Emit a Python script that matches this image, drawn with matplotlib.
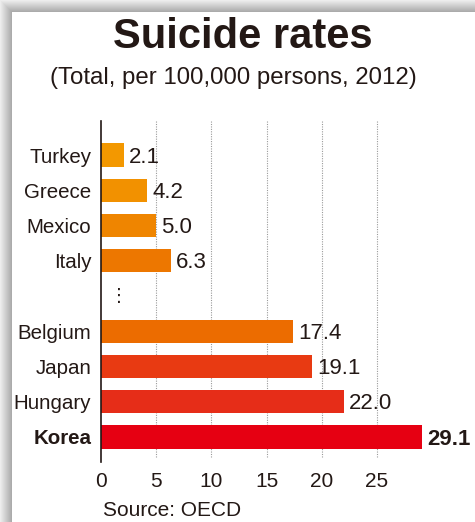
import matplotlib.pyplot as plt
import numpy as np

plt.rcParams['font.family'] = ['Liberation Sans', 'DejaVu Sans']

countries = ['Turkey', 'Greece', 'Mexico', 'Italy', 'Belgium', 'Japan', 'Hungary', 'Korea']
rates = [2.1, 4.2, 5.0, 6.3, 17.4, 19.1, 22.0, 29.1]
bar_colors = ['#F39800', '#F29100', '#EF8500', '#ED7700', '#EC6C00', '#E83A12', '#E62D18', '#E60012']
ticks = [0, 5, 10, 15, 20, 25]

ink = '#231815'
W, H = 475, 522
fig = plt.figure(figsize=(W / 100, H / 100), dpi=100)

# grey drop shadow on left / top edge
bg = fig.add_axes([0, 0, 1, 1])
cols = np.arange(W)
rows = np.arange(H)
sw = 12
left = np.where(cols < sw, 0.93 - 0.28 * cols / sw, 1.0)
top = np.where(rows < sw, 0.93 - 0.28 * rows / sw, 1.0)
img = np.minimum(left[None, :], top[:, None])
corner = (rows[:, None] < sw) & (cols[None, :] < sw)
img[corner] = np.maximum(left[None, :], top[:, None])[corner]
bg.imshow(np.dstack([img] * 3), aspect='auto', extent=[0, W, H, 0])
bg.set_xlim(0, W)
bg.set_ylim(H, 0)
bg.axis('off')

# main axes, placed in pixel terms
x0, x1 = 101, 460
y_top, y_bot = 121, 462
ax = fig.add_axes([x0 / W, 1 - y_bot / H, (x1 - x0) / W, (y_bot - y_top) / H])
ax.patch.set_alpha(0)

px_per_unit = (377 - 101) / 25
ax.set_xlim(0, (x1 - x0) / px_per_unit)
slot = 35.25
ax.set_ylim((y_bot - 155) / slot, (y_top - 155) / slot)

# positions: leave one empty slot between Italy and Belgium
pos = [i if i < 4 else i + 1 for i in range(len(countries))]

for t in ticks[1:]:
    ax.axvline(t, ymin=(y_bot - 457) / (y_bot - y_top), ymax=1, color='#9a9a9a',
               lw=0.8, ls=(0, (1, 1.2)), zorder=0)

ax.barh(pos, rates, height=0.66, color=bar_colors, zorder=2)

for p, v, c in zip(pos, rates, countries):
    bold = c == 'Korea'
    ax.text(v + 0.45, p + 0.06, f'{v:.1f}', va='center', ha='left', fontsize=16,
            color=ink, fontweight='bold' if bold else 'normal', clip_on=False)

ax.text(1.6, 4, '⋮', family='DejaVu Sans', fontsize=13, ha='center', va='center', color=ink)

ax.set_yticks(pos)
ax.set_yticklabels(countries, fontsize=14.8, color=ink)
for lab in ax.get_yticklabels():
    if lab.get_text() == 'Korea':
        lab.set_fontweight('bold')
ax.set_xticks(ticks)
ax.set_xticklabels([str(t) for t in ticks], fontsize=15, color=ink)
ax.tick_params(axis='both', length=0)
ax.tick_params(axis='y', pad=7)
ax.tick_params(axis='x', pad=7)

for s in ['top', 'right', 'bottom']:
    ax.spines[s].set_visible(False)
ax.spines['left'].set_color(ink)
ax.spines['left'].set_linewidth(1.2)

fig.text(243 / W, 1 - 37 / H, 'Suicide rates', fontsize=30, fontweight='bold',
         ha='center', va='center', color=ink)
fig.text(233 / W, 1 - 78 / H, '(Total, per 100,000 persons, 2012)', fontsize=17.3,
         ha='center', va='center', color=ink)
fig.text(103 / W, 1 - 511 / H, 'Source: OECD', fontsize=15, ha='left', va='center', color=ink)

fig.savefig('out.png', dpi=100)
